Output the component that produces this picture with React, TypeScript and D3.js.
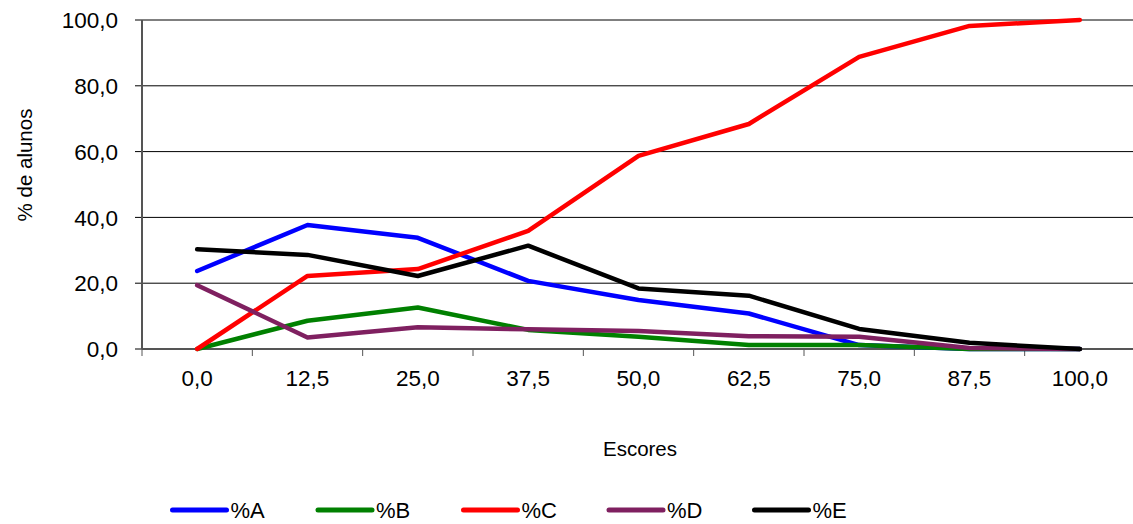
import React from "react";
import * as d3 from "d3";

const categories = ["0,0", "12,5", "25,0", "37,5", "50,0", "62,5", "75,0", "87,5", "100,0"];
const seriesA = [23.7, 37.7, 33.8, 20.7, 14.9, 10.8, 1.2, 0, 0];
const seriesB = [0, 8.6, 12.6, 5.8, 3.7, 1.2, 1.2, 0, 0];
const seriesC = [0, 22.2, 24.3, 35.9, 58.7, 68.4, 88.8, 98.2, 100];
const seriesD = [19.4, 3.5, 6.6, 6.0, 5.5, 3.9, 3.7, 0.3, 0];
const seriesE = [30.3, 28.6, 22.2, 31.4, 18.4, 16.2, 6.1, 1.9, 0];
const seriesNames = ["%A", "%B", "%C", "%D", "%E"];
const seriesColors = ["#0000ff", "#008000", "#ff0000", "#7f2060", "#000000"];
const yTicks = [0, 20, 40, 60, 80, 100];

const W = 1133, H = 524;
const left = 142, right = 1135, top = 20, bottom = 349;
const font = "'Liberation Sans', Arial, sans-serif";

export default function App() {
  const x = d3.scaleBand<string>().domain(categories).range([left, right]);
  const y = d3.scaleLinear().domain([0, 100]).range([bottom, top]);
  const all = [seriesA, seriesB, seriesC, seriesD, seriesE];
  const line = d3
    .line<number>()
    .x((_, i) => (x(categories[i]) as number) + x.bandwidth() / 2)
    .y((d) => y(d));
  const fmt = (v: number) => v.toFixed(1).replace(".", ",");
  const legendX = [172.5, 318, 463.5, 609, 754.5];
  return (
    <svg width={W} height={H} style={{ position: "absolute", left: 0, top: 0, background: "#fff" }}>
      {yTicks.map((t) => (
        <g key={t}>
          {t > 0 && <line x1={left} x2={W} y1={y(t)} y2={y(t)} stroke="#000" strokeWidth={1} />}
          <line x1={left - 7} x2={left} y1={y(t)} y2={y(t)} stroke="#000" strokeWidth={1} />
          <text x={118} y={y(t)} dy="0.36em" textAnchor="end" fontFamily={font} fontSize={22.5} fill="#000">
            {fmt(t)}
          </text>
        </g>
      ))}
      <line x1={left} x2={left} y1={top} y2={bottom} stroke="#555" strokeWidth={2} />
      <line x1={left} x2={W} y1={bottom} y2={bottom} stroke="#555" strokeWidth={2} />
      {categories.map((c, i) => (
        <g key={c}>
          <line x1={(x(c) as number)} x2={(x(c) as number)} y1={bottom} y2={bottom + 7} stroke="#555" strokeWidth={1} />
          <text x={(x(c) as number) + x.bandwidth() / 2} y={386} textAnchor="middle" fontFamily={font} fontSize={22.5} fill="#000">
            {c}
          </text>
        </g>
      ))}
      {all.map((s, k) => (
        <path key={k} d={line(s) as string} fill="none" stroke={seriesColors[k]} strokeWidth={4.5} strokeLinejoin="round" strokeLinecap="round" />
      ))}
      <text x={640} y={456} textAnchor="middle" fontFamily={font} fontSize={20.5}>Escores</text>
      <text transform="translate(32,165) rotate(-90)" textAnchor="middle" fontFamily={font} fontSize={20.5}>% de alunos</text>
      {seriesNames.map((n, k) => (
        <g key={n}>
          <line x1={legendX[k]} x2={legendX[k] + 54} y1={510} y2={510} stroke={seriesColors[k]} strokeWidth={5} strokeLinecap="round" />
          <text x={legendX[k] + 58} y={518} fontFamily={font} fontSize={22}>{n}</text>
        </g>
      ))}
    </svg>
  );
}
